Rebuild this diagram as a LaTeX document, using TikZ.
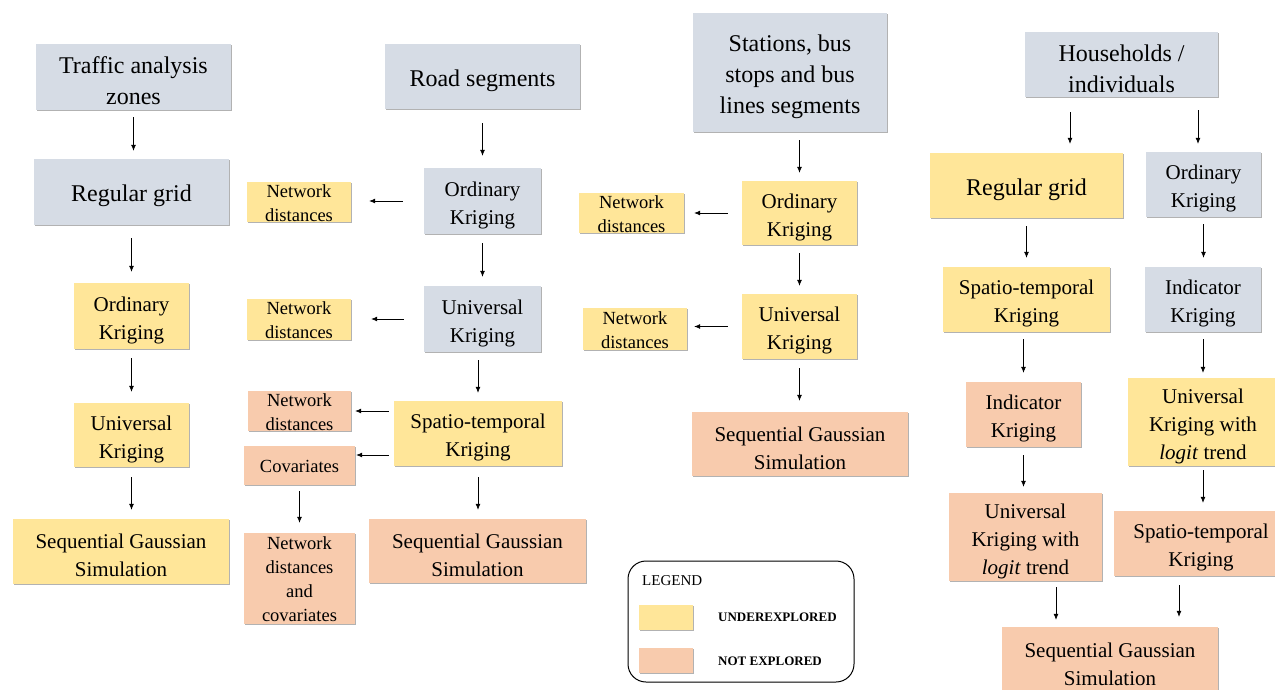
\documentclass[tikz,border=0pt]{standalone}
\usepackage{fontspec}
\setmainfont{Liberation Serif}
\usetikzlibrary{arrows.meta,shadows,calc}
\definecolor{bluegray}{HTML}{D6DCE5}
\definecolor{underc}{HTML}{FFE699}
\definecolor{notexpc}{HTML}{F8CBAD}
\tikzset{
  bx/.style={inner sep=0pt,
    drop shadow={shadow xshift=1pt, shadow yshift=-1pt, fill=black, opacity=0.3}},
  graybox/.style={bx, fill=bluegray},
  yelbox/.style={bx, fill=underc},
  orabox/.style={bx, fill=notexpc},
  txt/.style={inner sep=0pt, align=center},
  big/.style={txt, yshift=-4pt, font=\fontsize{24}{31}\selectfont},
  mid/.style={txt, yshift=-4pt, font=\fontsize{21}{28}\selectfont},
  sml/.style={txt, yshift=-1pt, font=\fontsize{18.5}{24}\selectfont},
  arr/.style={-{Latex[length=6pt,width=5pt]}, line width=0.7pt, black},
}
% name, x1, y1, x2, y2, box style, text style, text
\newcommand\placebox[8]{%
  \node[#6, minimum width={(#4-#2)*1pt}, minimum height={(#5-#3)*1pt}] (#1) at ({(#2+#4)/2},{(#3+#5)/2}) {};
  \node[#7] (#1-t) at (#1.center) {#8};}
\newcommand\placerect[6]{%
  \node[#6, minimum width={(#4-#2)*1pt}, minimum height={(#5-#3)*1pt}] (#1) at ({(#2+#4)/2},{(#3+#5)/2}) {};}
\begin{document}
\begin{tikzpicture}[x=1pt,y=-1pt]
\useasboundingbox (0,0) rectangle (1275,689);
\clip (0,0) rectangle (1275,689);
% column 1
\placebox{taz}{36}{44}{231}{110}{graybox}{big}{Traffic analysis\\zones}
\placebox{grid1}{34}{159}{229}{225}{graybox}{big}{Regular grid}
\placebox{ok1}{74}{283}{189}{349}{yelbox}{mid}{Ordinary\\Kriging}
\placebox{uk1}{74}{403}{189}{467}{yelbox}{mid}{Universal\\Kriging}
\placebox{sgs1}{13}{519}{229}{584}{yelbox}{mid}{Sequential Gaussian\\Simulation}
% column 2
\placebox{road}{385}{44}{580}{109}{graybox}{big}{Road segments}
\placebox{okr}{424}{168}{541}{234}{graybox}{mid}{Ordinary\\Kriging}
\placebox{ukr}{424}{286}{541}{352}{graybox}{mid}{Universal\\Kriging}
\placebox{str}{394}{401}{562}{466}{yelbox}{mid}{Spatio-temporal\\Kriging}
\placebox{sgsr}{369}{519}{586}{583}{orabox}{mid}{Sequential Gaussian\\Simulation}
\placebox{nd1}{247}{182}{351}{222}{yelbox}{sml}{Network\\distances}
\placebox{nd2}{247}{299}{351}{340}{yelbox}{sml}{Network\\distances}
\placebox{nd3}{248}{391}{351}{431}{orabox}{sml}{Network\\distances}
\placebox{cov}{244}{446}{355}{485}{orabox}{sml}{Covariates}
\placebox{ndc}{244}{533}{355}{624}{orabox}{sml}{Network\\distances\\and\\covariates}
% column 3
\placebox{sta}{693}{13}{887}{132}{graybox}{big}{Stations, bus\\stops and bus\\lines segments}
\placebox{oks}{742}{181}{857}{245}{yelbox}{mid}{Ordinary\\Kriging}
\placebox{uks}{742}{294}{857}{359}{yelbox}{mid}{Universal\\Kriging}
\placebox{sgss}{692}{412}{908}{476}{orabox}{mid}{Sequential Gaussian\\Simulation}
\placebox{nd4}{579}{193}{684}{233}{yelbox}{sml}{Network\\distances}
\placebox{nd5}{583}{308}{687}{350}{yelbox}{sml}{Network\\distances}
% column 4
\placebox{hh}{1025}{32}{1218}{97}{graybox}{big}{Households /\\individuals}
\placebox{gridh}{930}{153}{1123}{218}{yelbox}{big}{Regular grid}
\placebox{okh}{1146}{152}{1261}{217}{graybox}{mid}{Ordinary\\Kriging}
\placebox{sth}{943}{267}{1110}{332}{yelbox}{mid}{Spatio-temporal\\Kriging}
\placebox{ikb}{1145}{267}{1261}{332}{graybox}{mid}{Indicator\\Kriging}
\placebox{iko}{966}{382}{1081}{447}{orabox}{mid}{Indicator\\Kriging}
\placebox{ukly}{1128}{378}{1278}{466}{yelbox}{mid}{Universal\\Kriging with\\\textit{logit} trend}
\placebox{uklo}{949}{493}{1102}{581}{orabox}{mid}{Universal\\Kriging with\\\textit{logit} trend}
\placebox{sto}{1114}{511}{1288}{576}{orabox}{mid}{Spatio-temporal\\Kriging}
\placebox{sgsh}{1002}{627}{1218}{693}{orabox}{mid}{Sequential Gaussian\\Simulation}
% legend
\node[draw, line width=1pt, rounded corners=18pt, fill=white, minimum width=226pt, minimum height=121pt, inner sep=0pt] (lg) at (741,621.5) {};
\node[anchor=west, font=\fontsize{15}{18}\selectfont, inner sep=0pt] (lgt) at (642,581) {LEGEND};
\placerect{swy}{639}{605}{693}{630}{yelbox}
\placerect{swo}{639}{648}{693}{673}{orabox}
\node[anchor=west, font=\fontsize{13}{16}\selectfont\bfseries, inner sep=0pt] (lgu) at (718,617) {UNDEREXPLORED};
\node[anchor=west, font=\fontsize{13}{16}\selectfont\bfseries, inner sep=0pt] (lgn) at (718,661) {NOT EXPLORED};
% arrows column 1
\draw[arr,shorten <=7pt,shorten >=8pt] (taz.south) -- (taz.south |- grid1.north);
\draw[arr,shorten <=13pt,shorten >=11pt] (grid1.south) -- (grid1.south |- ok1.north);
\draw[arr,shorten <=9pt,shorten >=11pt] (ok1.south) -- (ok1.north |- uk1.north);
\draw[arr,shorten <=10pt,shorten >=9pt] (uk1.south) -- (uk1.south |- sgs1.north);
% arrows column 2
\draw[arr,shorten <=14pt,shorten >=12pt] (road.south) -- (road.south |- okr.north);
\draw[arr,shorten <=9pt,shorten >=9pt] (okr.south) -- (ukr.north);
\draw[arr,shorten <=8pt,shorten >=8pt] (str.north |- ukr.south) -- (str.north);
\draw[arr,shorten <=11pt,shorten >=9pt] (str.south) -- (str.south |- sgsr.north);
\draw[arr,shorten <=6pt,shorten >=10pt] (cov.south) -- (cov.south |- ndc.north);
\draw[arr,shorten <=21pt,shorten >=18pt] (okr.west) -- (okr.west -| nd1.east);
\draw[arr,shorten <=20pt,shorten >=20pt] (ukr.west) -- (ukr.west -| nd2.east);
\draw[arr,shorten <=5pt,shorten >=4pt] (nd3.east -| str.west) -- (nd3.east);
\draw[arr,shorten <=5pt,shorten >=1pt] ([yshift=-21.5pt]str.west) -- ([yshift=-21.5pt]str.west -| cov.east);
% arrows column 3
\draw[arr,shorten <=8pt,shorten >=8pt] (oks.north |- sta.south) -- (oks.north);
\draw[arr,shorten <=8pt,shorten >=8pt] (oks.south) -- (uks.north);
\draw[arr,shorten <=9pt,shorten >=11pt] (uks.south) -- (uks.south |- sgss.north);
\draw[arr,shorten <=14pt,shorten >=10pt] (oks.west) -- (oks.west -| nd4.east);
\draw[arr,shorten <=14pt,shorten >=7pt] (uks.west) -- (uks.west -| nd5.east);
% arrows column 4
\draw[arr,shorten <=15pt,shorten >=9pt] ([xshift=-51.5pt]hh.south) -- ([xshift=-51.5pt]hh.south |- gridh.north);
\draw[arr,shorten <=13pt,shorten >=8pt] ([xshift=76.5pt]hh.south) -- ([xshift=76.5pt]hh.south |- okh.north);
\draw[arr,shorten <=8pt,shorten >=9pt] (gridh.south) -- (gridh.south |- sth.north);
\draw[arr,shorten <=7pt,shorten >=9pt] (okh.south) -- (okh.south |- ikb.north);
\draw[arr,shorten <=7pt,shorten >=9pt] (iko.north |- sth.south) -- (iko.north);
\draw[arr,shorten <=7pt,shorten >=5pt] (ikb.south) -- (ikb.south |- ukly.north);
\draw[arr,shorten <=8pt,shorten >=6pt] (iko.south) -- (iko.south |- uklo.north);
\draw[arr,shorten <=4pt,shorten >=8pt] (ukly.south) -- (ukly.south |- sto.north);
\draw[arr,shorten <=6pt,shorten >=7pt] ([xshift=30.5pt]uklo.south) -- ([xshift=30.5pt]uklo.south |- sgsh.north);
\draw[arr,shorten <=9pt,shorten >=10pt] ([xshift=-22pt]sto.south) -- ([xshift=-22pt]sto.south |- sgsh.north);
\end{tikzpicture}
\end{document}
